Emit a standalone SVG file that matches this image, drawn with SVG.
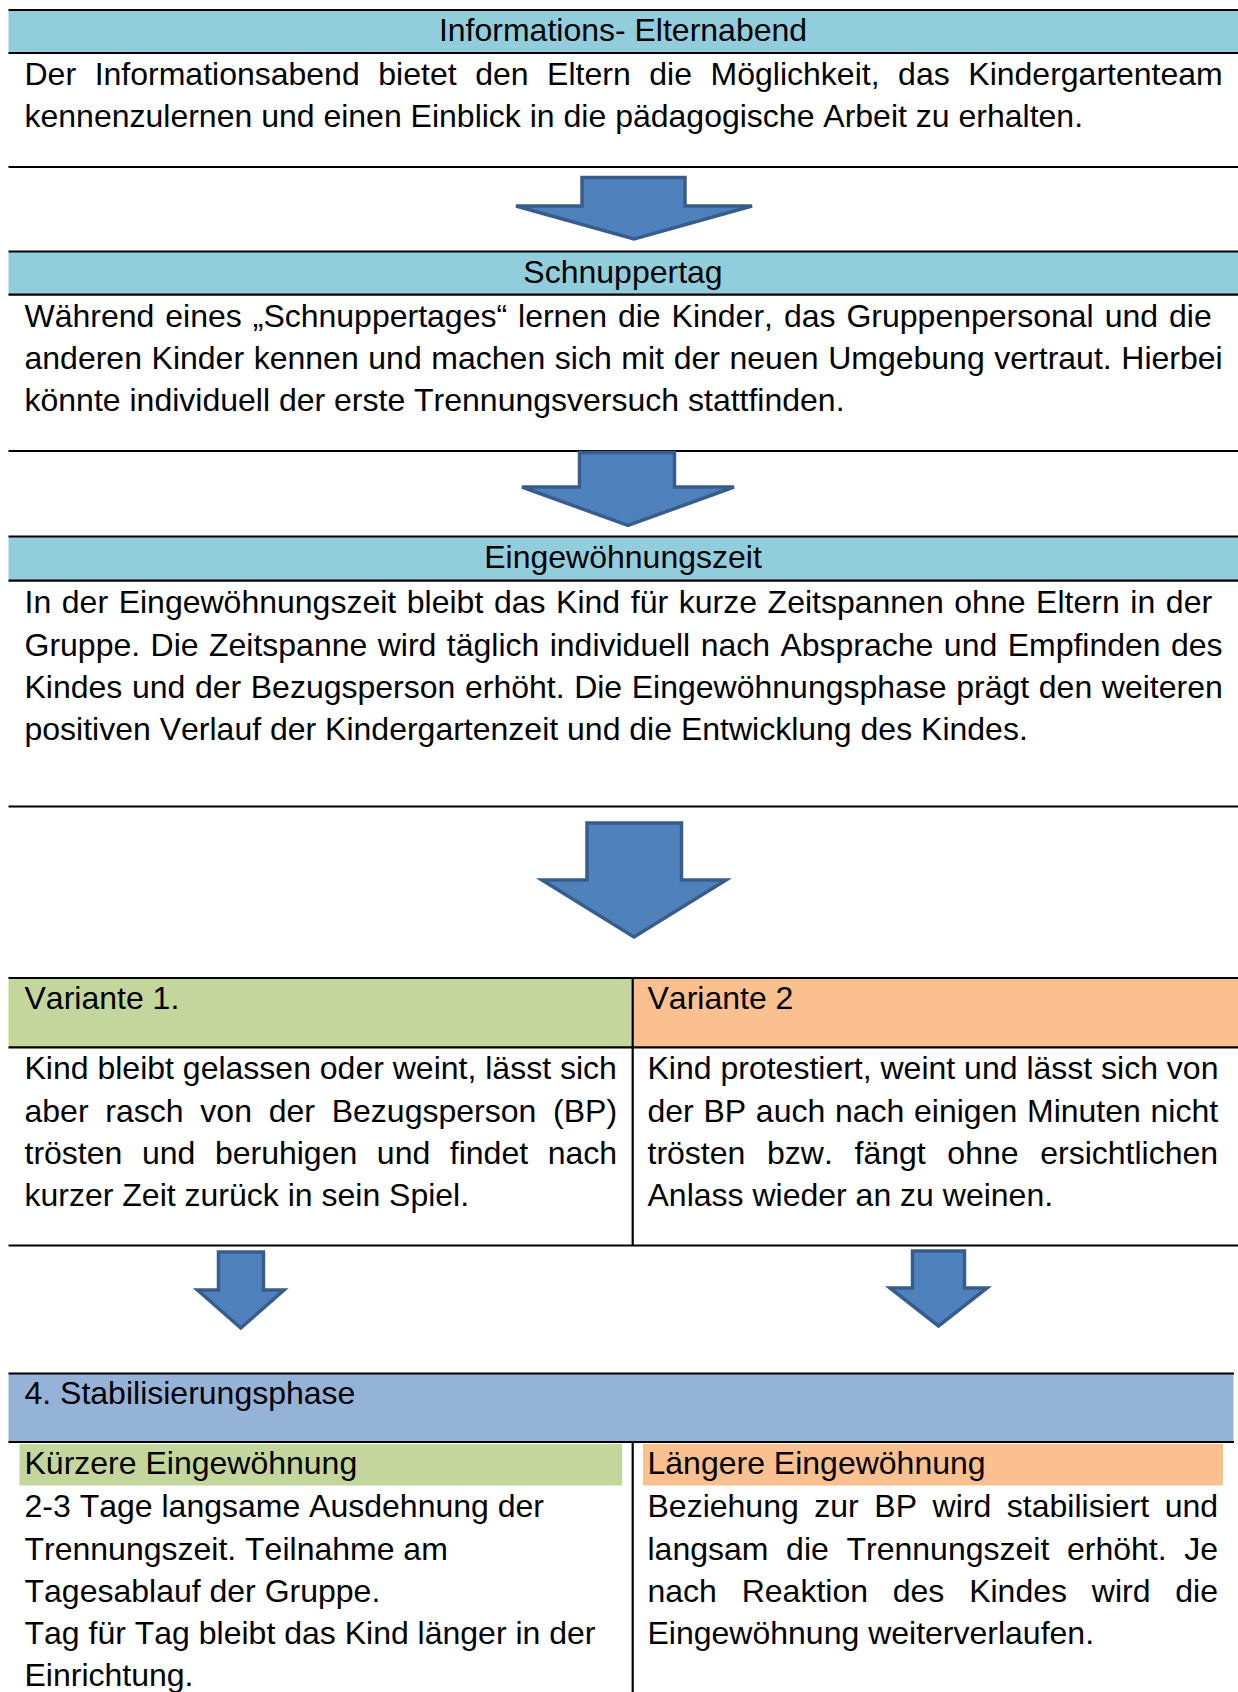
<svg xmlns="http://www.w3.org/2000/svg" width="1238" height="1692" viewBox="0 0 1238 1692">
<style>
text { font-family: "Liberation Sans", Arial, sans-serif; font-size: 32px; fill: #000; font-kerning: none; }
.c { text-anchor: middle; }
.rule { stroke: #000; stroke-width: 2.2; fill: none; }
.arrow { fill: #4F81BD; stroke: #385D8A; stroke-width: 3.5; stroke-linejoin: miter; }
.aqua { fill: #92CDDC; }
.green { fill: #C3D69B; }
.orange { fill: #FAC090; }
.blue { fill: #95B3D7; }
</style>
<rect x="0" y="0" width="1238" height="1692" fill="#FFFFFF"/>

<g id="informations-elternabend">
<rect class="aqua" x="8.5" y="10" width="1229.5" height="43"/>
<line class="rule" x1="8.5" y1="10" x2="1238" y2="10"/>
<line class="rule" x1="8.5" y1="53" x2="1238" y2="53"/>
<line class="rule" x1="8.5" y1="167" x2="1238" y2="167"/>
<text class="c" x="623" y="41">Informations- Elternabend</text>
<text x="24.5" y="84.5" style="word-spacing:9.69px">Der Informationsabend bietet den Eltern die Möglichkeit, das Kindergartenteam</text>
<text x="24.5" y="127">kennenzulernen und einen Einblick in die pädagogische Arbeit zu erhalten.</text>
</g>

<g id="schnuppertag">
<rect class="aqua" x="8.5" y="251.5" width="1229.5" height="43.1"/>
<line class="rule" x1="8.5" y1="251.5" x2="1238" y2="251.5"/>
<line class="rule" x1="8.5" y1="294.6" x2="1238" y2="294.6"/>
<line class="rule" x1="8.5" y1="451" x2="1238" y2="451"/>
<text class="c" x="623" y="282.5">Schnuppertag</text>
<text x="24.5" y="326.5" style="word-spacing:2.05px">Während eines „Schnuppertages“ lernen die Kinder, das Gruppenpersonal und die</text>
<text x="24.5" y="369" style="word-spacing:0.74px">anderen Kinder kennen und machen sich mit der neuen Umgebung vertraut. Hierbei</text>
<text x="24.5" y="411">könnte individuell der erste Trennungsversuch stattfinden.</text>
</g>

<g id="eingewoehnungszeit">
<rect class="aqua" x="8.5" y="536.5" width="1229.5" height="44.2"/>
<line class="rule" x1="8.5" y1="536.5" x2="1238" y2="536.5"/>
<line class="rule" x1="8.5" y1="580.7" x2="1238" y2="580.7"/>
<line class="rule" x1="8.5" y1="806.5" x2="1238" y2="806.5"/>
<text class="c" x="623" y="567.5">Eingewöhnungszeit</text>
<text x="24.5" y="613" style="word-spacing:1.72px">In der Eingewöhnungszeit bleibt das Kind für kurze Zeitspannen ohne Eltern in der</text>
<text x="24.5" y="655.5" style="word-spacing:1.52px">Gruppe. Die Zeitspanne wird täglich individuell nach Absprache und Empfinden des</text>
<text x="24.5" y="698" style="word-spacing:0.7px">Kindes und der Bezugsperson erhöht. Die Eingewöhnungsphase prägt den weiteren</text>
<text x="24.5" y="740">positiven Verlauf der Kindergartenzeit und die Entwicklung des Kindes.</text>
</g>

<g id="varianten">
<rect class="green" x="8.5" y="978" width="624.2" height="69.3"/>
<rect class="orange" x="632.7" y="978" width="605.3" height="69.3"/>
<line class="rule" x1="8.5" y1="978" x2="1238" y2="978"/>
<line class="rule" x1="8.5" y1="1047.3" x2="1238" y2="1047.3"/>
<line class="rule" x1="8.5" y1="1245.5" x2="1238" y2="1245.5"/>
<line class="rule" x1="632.7" y1="978" x2="632.7" y2="1245.5"/>
<g id="variante-1">
<text x="24.5" y="1008.5">Variante 1.</text>
<text x="24.5" y="1079">Kind bleibt gelassen oder weint, lässt sich</text>
<text x="24.5" y="1121.5" style="word-spacing:7.88px">aber rasch von der Bezugsperson (BP)</text>
<text x="24.5" y="1164" style="word-spacing:10.7px">trösten und beruhigen und findet nach</text>
<text x="24.5" y="1206">kurzer Zeit zurück in sein Spiel.</text>
</g>
<g id="variante-2">
<text x="647.5" y="1008.5">Variante 2</text>
<text x="647.5" y="1079">Kind protestiert, weint und lässt sich von</text>
<text x="647.5" y="1121.5" style="word-spacing:0.82px">der BP auch nach einigen Minuten nicht</text>
<text x="647.5" y="1164" style="word-spacing:12.8px">trösten bzw. fängt ohne ersichtlichen</text>
<text x="647.5" y="1206">Anlass wieder an zu weinen.</text>
</g>
</g>

<g id="stabilisierungsphase">
<rect class="blue" x="8.5" y="1373.5" width="1225" height="68.5"/>
<line class="rule" x1="8.5" y1="1373.5" x2="1234" y2="1373.5"/>
<line class="rule" x1="8.5" y1="1442" x2="1234" y2="1442"/>
<line class="rule" x1="632.7" y1="1442" x2="632.7" y2="1692"/>
<text x="24.5" y="1403.5">4. Stabilisierungsphase</text>
<g id="kuerzere-eingewoehnung">
<rect class="green" x="19.5" y="1444" width="602.5" height="41.5"/>
<text x="24.5" y="1474">Kürzere Eingewöhnung</text>
<text x="24.5" y="1516.5">2-3 Tage langsame Ausdehnung der</text>
<text x="24.5" y="1559.5">Trennungszeit. Teilnahme am</text>
<text x="24.5" y="1601.5">Tagesablauf der Gruppe.</text>
<text x="24.5" y="1644">Tag für Tag bleibt das Kind länger in der</text>
<text x="24.5" y="1686">Einrichtung.</text>
</g>
<g id="laengere-eingewoehnung">
<rect class="orange" x="643" y="1444" width="580" height="41.5"/>
<text x="647.5" y="1474">Längere Eingewöhnung</text>
<text x="647.5" y="1516.5" style="word-spacing:6.68px">Beziehung zur BP wird stabilisiert und</text>
<text x="647.5" y="1559.5" style="word-spacing:8.78px">langsam die Trennungszeit erhöht. Je</text>
<text x="647.5" y="1601.5" style="word-spacing:15.9px">nach Reaktion des Kindes wird die</text>
<text x="647.5" y="1644">Eingewöhnung weiterverlaufen.</text>
</g>
</g>

<g id="connectors">
<polygon class="arrow" points="582,177.5 685,177.5 685,206 752,206 634,239 516,206 582,206"/>
<polygon class="arrow" points="579.5,452.5 674.5,452.5 674.5,487 734,487 628,525.5 522,487 579.5,487"/>
<polygon class="arrow" points="587,823 681.5,823 681.5,880 726,880 634,937 542,880 587,880"/>
<polygon class="arrow" points="218.5,1252 263.5,1252 263.5,1290 284,1290 240.8,1328 197.5,1290 218.5,1290"/>
<polygon class="arrow" points="912.5,1251 964.5,1251 964.5,1288 987,1288 938.5,1326 890,1288 912.5,1288"/>
</g>
</svg>
